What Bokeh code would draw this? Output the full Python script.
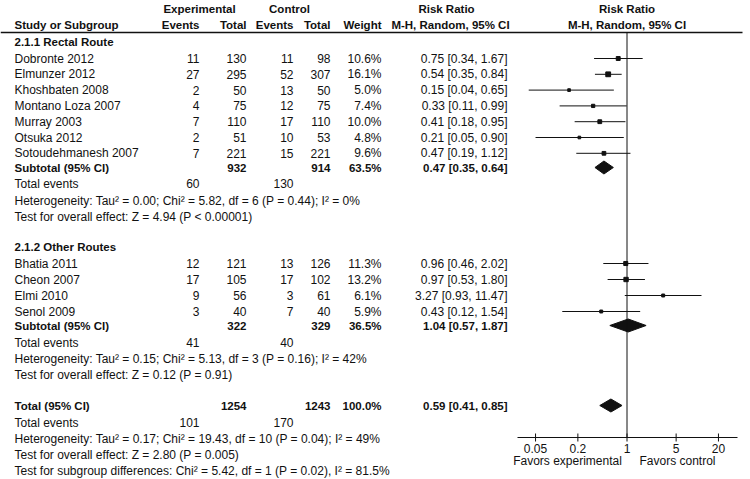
from bokeh.plotting import figure
from bokeh.models import Range1d, LogScale
from bokeh.embed import file_html
from bokeh.resources import INLINE
from bokeh.core.properties import value

# ---------------- data ----------------
studies1 = ["Dobronte 2012", "Elmunzer 2012", "Khoshbaten 2008", "Montano Loza 2007",
            "Murray 2003", "Otsuka 2012", "Sotoudehmanesh 2007"]
exp_events1 = [11, 27, 2, 4, 7, 2, 7]
exp_total1 = [130, 295, 50, 75, 110, 51, 221]
ctl_events1 = [11, 52, 13, 12, 17, 10, 15]
ctl_total1 = [98, 307, 50, 75, 110, 53, 221]
weight1 = [10.6, 16.1, 5.0, 7.4, 10.0, 4.8, 9.6]
rr1 = [0.75, 0.54, 0.15, 0.33, 0.41, 0.21, 0.47]
lo1 = [0.34, 0.35, 0.04, 0.11, 0.18, 0.05, 0.19]
hi1 = [1.67, 0.84, 0.65, 0.99, 0.95, 0.90, 1.12]

studies2 = ["Bhatia 2011", "Cheon 2007", "Elmi 2010", "Senol 2009"]
exp_events2 = [12, 17, 9, 3]
exp_total2 = [121, 105, 56, 40]
ctl_events2 = [13, 17, 3, 7]
ctl_total2 = [126, 102, 61, 40]
weight2 = [11.3, 13.2, 6.1, 5.9]
rr2 = [0.96, 0.97, 3.27, 0.43]
lo2 = [0.46, 0.53, 0.93, 0.12]
hi2 = [2.02, 1.80, 11.47, 1.54]

# subtotal / total rows: [exp_total, ctl_total, weight, rr, lo, hi, exp_events, ctl_events]
sub1 = [932, 914, 63.5, 0.47, 0.35, 0.64, 60, 130]
sub2 = [322, 329, 36.5, 1.04, 0.57, 1.87, 41, 40]
total = [1254, 1243, 100.0, 0.59, 0.41, 0.85, 101, 170]

het1 = "Heterogeneity: Tau\u00b2 = 0.00; Chi\u00b2 = 5.82, df = 6 (P = 0.44); I\u00b2 = 0%"
eff1 = "Test for overall effect: Z = 4.94 (P < 0.00001)"
het2 = "Heterogeneity: Tau\u00b2 = 0.15; Chi\u00b2 = 5.13, df = 3 (P = 0.16); I\u00b2 = 42%"
eff2 = "Test for overall effect: Z = 0.12 (P = 0.91)"
het_t = "Heterogeneity: Tau\u00b2 = 0.17; Chi\u00b2 = 19.43, df = 10 (P = 0.04); I\u00b2 = 49%"
eff_t = "Test for overall effect: Z = 2.80 (P = 0.005)"
sub_diff = "Test for subgroup differences: Chi\u00b2 = 5.42, df = 1 (P = 0.02), I\u00b2 = 81.5%"

tick_values = [0.05, 0.2, 1, 5, 20]
tick_labels = ["0.05", "0.2", "1", "5", "20"]

# ---------------- layout ----------------
FONT = "Liberation Sans"
FS = "12px"
FS_B = "11.5px"
COL = "#111111"
X1 = 626.5      # pixel column of RR = 1
DEC = 70.3      # pixels per decade
AX_L, AX_R = 517, 737
X_TXT, X_EE, X_ET, X_CE, X_CT, X_W, X_RR = 14, 199, 246, 293, 330, 381, 507

p = figure(width=750, height=479, x_range=Range1d(0, 750), y_range=Range1d(479, 0),
           x_axis_location=None, y_axis_location=None, toolbar_location=None,
           output_backend="svg", min_border=0, outline_line_color=None)
p.xgrid.visible = False
p.ygrid.visible = False
p.extra_x_ranges = {"rr": Range1d(10 ** ((0 - X1) / DEC), 10 ** ((750 - X1) / DEC))}
p.extra_x_scales = {"rr": LogScale()}

texts = {}


def add(x, y, t, align="left", style="normal"):
    d = texts.setdefault((align, style), {"x": [], "y": [], "t": []})
    d["x"].append(x)
    d["y"].append(y)
    d["t"].append(t)


def rrtxt(r, lo, hi):
    return f"{r:.2f} [{lo:.2f}, {hi:.2f}]"


# headers
add(199, 8, "Experimental", "center", "bold")
add(289, 8, "Control", "center", "bold")
add(446, 8, "Risk Ratio", "center", "bold")
add(X1, 8, "Risk Ratio", "center", "bold")
add(X_TXT, 24, "Study or Subgroup", "left", "bold")
add(X_EE, 24, "Events", "right", "bold")
add(X_ET, 24, "Total", "right", "bold")
add(X_CE, 24, "Events", "right", "bold")
add(X_CT, 24, "Total", "right", "bold")
add(X_W, 24, "Weight", "right", "bold")
add(450, 24, "M-H, Random, 95% CI", "center", "bold")
add(X1, 24, "M-H, Random, 95% CI", "center", "bold")
p.segment(x0=[0], y0=[32], x1=[742], y1=[32], line_color=COL, line_width=1.5)

ys1 = [58, 73.8, 89.6, 105.4, 121.2, 137, 152.8]
ys2 = [263, 279, 295, 311]


def study_rows(names, ee, et, ce, ct, w, r, lo, hi, ys):
    for i in range(len(names)):
        y = ys[i]
        add(X_TXT, y, names[i])
        add(X_EE, y, str(ee[i]), "right")
        add(X_ET, y, str(et[i]), "right")
        add(X_CE, y, str(ce[i]), "right")
        add(X_CT, y, str(ct[i]), "right")
        add(X_W, y, f"{w[i]:.1f}%", "right")
        add(X_RR, y, rrtxt(r[i], lo[i], hi[i]), "right")
    p.segment(x0=lo, y0=ys, x1=hi, y1=ys, x_range_name="rr", line_color=COL, line_width=1)
    p.scatter(x=r, y=ys, size=[1.2 * v ** 0.5 for v in w], marker="square",
              color=COL, x_range_name="rr")


def summary_row(label, s, y, ev_y, het, eff, het_y, eff_y):
    add(X_TXT, y, label, "left", "bold")
    add(X_ET, y, str(s[0]), "right", "bold")
    add(X_CT, y, str(s[1]), "right", "bold")
    add(X_W, y, f"{s[2]:.1f}%", "right", "bold")
    add(X_RR, y, rrtxt(s[3], s[4], s[5]), "right", "bold")
    add(X_TXT, ev_y, "Total events")
    add(X_EE, ev_y, str(s[6]), "right")
    add(X_CE, ev_y, str(s[7]), "right")
    add(X_TXT, het_y, het)
    add(X_TXT, eff_y, eff)
    p.patches(xs=[[s[4], s[3], s[5], s[3]]], ys=[[y, y - 6.5, y, y + 6.5]],
              x_range_name="rr", color=COL)


add(X_TXT, 41, "2.1.1 Rectal Route", "left", "bold")
study_rows(studies1, exp_events1, exp_total1, ctl_events1, ctl_total1, weight1, rr1, lo1, hi1, ys1)
summary_row("Subtotal (95% CI)", sub1, 167, 183, het1, eff1, 200, 216)

add(X_TXT, 246, "2.1.2 Other Routes", "left", "bold")
study_rows(studies2, exp_events2, exp_total2, ctl_events2, ctl_total2, weight2, rr2, lo2, hi2, ys2)
summary_row("Subtotal (95% CI)", sub2, 325, 342, het2, eff2, 358, 374)

summary_row("Total (95% CI)", total, 405, 422, het_t, eff_t, 438, 454)
add(X_TXT, 470, sub_diff)

# null line and axis
p.segment(x0=[1], y0=[32], x1=[1], y1=[437], x_range_name="rr", line_color=COL, line_width=1)
ax_lo, ax_hi = 10 ** ((AX_L - X1) / DEC), 10 ** ((AX_R - X1) / DEC)
p.segment(x0=[ax_lo], y0=[437], x1=[ax_hi], y1=[437], x_range_name="rr", line_color=COL, line_width=1)
p.segment(x0=tick_values, y0=[433] * len(tick_values), x1=tick_values, y1=[441] * len(tick_values),
          x_range_name="rr", line_color=COL, line_width=1)
p.text(x=tick_values, y=[448] * len(tick_values), text=tick_labels, x_range_name="rr",
       text_align="center", text_baseline="middle", text_font=value(FONT),
       text_font_size=FS, text_color=COL)
add(567, 460, "Favors experimental", "center")
add(677, 460, "Favors control", "center")

for (align, style), d in texts.items():
    p.text(x=d["x"], y=d["y"], text=d["t"], text_align=align, text_baseline="middle",
           text_font=value(FONT), text_font_size=(FS_B if style == "bold" else FS),
           text_font_style=style, text_color=COL)

open("out.html", "w").write(file_html(p, INLINE))
